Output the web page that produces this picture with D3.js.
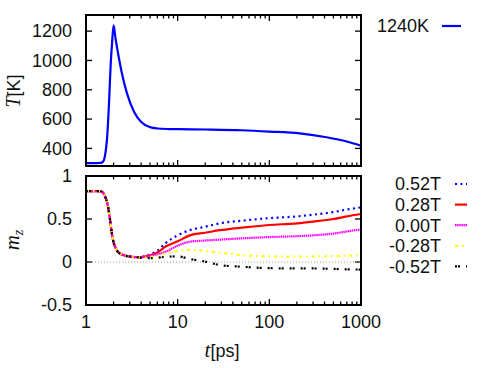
<!DOCTYPE html>
<html>
<head>
<meta charset="utf-8">
<script src="https://cdn.jsdelivr.net/npm/d3@7"></script>
<style>
  body { margin: 0; background: #fff; }
  svg text { font-family: "Liberation Sans", Arial, sans-serif; font-size: 18px; fill: #111; }
</style>
</head>
<body>
<svg id="svg" width="491" height="368"></svg>
<script>
// temperature panel
const tempTime = [1, 1.3, 1.45, 1.52, 1.6, 1.71, 1.78, 1.86, 1.93, 2.0, 2.1, 2.2, 2.45, 2.8, 3.34, 4, 5, 6, 8, 10, 20, 50, 100, 215, 420, 700, 1000];
const tempK    = [300, 300, 301, 306, 340, 497, 700, 975, 1130, 1240, 1150, 1075, 920, 775, 650, 580, 545, 536, 532, 531, 529, 524, 515, 502, 476, 447, 418];
const tempLabel = "1240K";
const tempTicks = [400, 600, 800, 1000, 1200];

// magnetisation panel
const mTime = [1, 1.4, 1.5, 1.6, 1.71, 1.83, 1.94, 2.11, 2.39, 3.07, 3.63, 4.5, 5.08, 6, 7.4, 10, 13.6, 20, 28.8, 50, 100, 200, 300, 500, 700, 1000];
const mBlue    = [0.825, 0.823, 0.815, 0.77, 0.68, 0.49, 0.29, 0.16, 0.093, 0.062, 0.055, 0.07, 0.09, 0.13, 0.22, 0.31, 0.37, 0.41, 0.45, 0.48, 0.51, 0.53, 0.55, 0.58, 0.61, 0.635];
const mRed     = [0.825, 0.823, 0.815, 0.77, 0.68, 0.49, 0.29, 0.16, 0.093, 0.062, 0.055, 0.065, 0.08, 0.11, 0.18, 0.24, 0.31, 0.34, 0.37, 0.40, 0.43, 0.45, 0.47, 0.50, 0.53, 0.558];
const mMagenta = [0.825, 0.823, 0.815, 0.77, 0.68, 0.49, 0.29, 0.16, 0.093, 0.062, 0.055, 0.06, 0.075, 0.09, 0.12, 0.19, 0.236, 0.25, 0.26, 0.275, 0.29, 0.30, 0.31, 0.33, 0.355, 0.38];
const mYellow  = [0.825, 0.823, 0.815, 0.77, 0.68, 0.49, 0.29, 0.16, 0.093, 0.062, 0.055, 0.05, 0.06, 0.07, 0.10, 0.13, 0.14, 0.13, 0.11, 0.08, 0.065, 0.062, 0.065, 0.068, 0.072, 0.08];
const mBlack   = [0.825, 0.823, 0.815, 0.77, 0.68, 0.49, 0.29, 0.16, 0.093, 0.062, 0.055, 0.045, 0.045, 0.05, 0.06, 0.065, 0.035, 0.005, -0.035, -0.055, -0.072, -0.074, -0.075, -0.08, -0.085, -0.088];
const fieldLabels = ["0.52T", "0.28T", "0.00T", "-0.28T", "-0.52T"];
const mTicks = [-0.5, 0, 0.5, 1];
const timeTicks = [1, 10, 100, 1000];

const series = [
  {label: fieldLabels[0], values: mBlue,    color: "#0000ff", dash: "2,3.5"},
  {label: fieldLabels[1], values: mRed,     color: "#ff0000", dash: null},
  {label: fieldLabels[2], values: mMagenta, color: "#ff00ff", dash: "1.5,0.6"},
  {label: fieldLabels[3], values: mYellow,  color: "#ffff00", dash: "3,4,1.5,4"},
  {label: fieldLabels[4], values: mBlack,   color: "#000000", dash: "2,1,2,6"}
];

const MATH = "font-family:'Liberation Serif','DejaVu Serif',serif;font-style:italic;";

const svg = d3.select("svg#svg");
const left = 86, right = 361;
const x = d3.scaleLog().domain([1, 1000]).range([left, right]);
const yT = d3.scaleLinear().domain([280, 1310]).range([166, 15]);
const yM = d3.scaleLinear().domain([-0.5, 1]).range([305, 176]);

// minor tick positions for the log axis
const minor = [];
for (let d = 1; d < 1000; d *= 10) for (let k = 2; k <= 9; k++) minor.push(d * k);

function frame(y) {
  const [y0, y1] = y.range();
  const g = svg.append("g");
  timeTicks.forEach(v => {
    g.append("line").attr("x1", x(v)).attr("x2", x(v)).attr("y1", y0).attr("y2", y0 - 6);
    g.append("line").attr("x1", x(v)).attr("x2", x(v)).attr("y1", y1).attr("y2", y1 + 6);
  });
  minor.forEach(v => {
    g.append("line").attr("x1", x(v)).attr("x2", x(v)).attr("y1", y0).attr("y2", y0 - 3.5);
    g.append("line").attr("x1", x(v)).attr("x2", x(v)).attr("y1", y1).attr("y2", y1 + 3.5);
  });
  g.selectAll("line").attr("stroke", "#000").attr("stroke-width", 1.3);
  return g;
}

function yTicks(y, ticks, fmt) {
  const g = svg.append("g");
  ticks.forEach(v => {
    g.append("line").attr("x1", left).attr("x2", left + 6).attr("y1", y(v)).attr("y2", y(v))
      .attr("stroke", "#000").attr("stroke-width", 1.3);
    g.append("line").attr("x1", right).attr("x2", right - 6).attr("y1", y(v)).attr("y2", y(v))
      .attr("stroke", "#000").attr("stroke-width", 1.3);
    g.append("text").attr("x", left - 14).attr("y", y(v)).attr("dy", "0.35em")
      .attr("text-anchor", "end").text(fmt(v));
  });
}

// ---- top panel: temperature
frame(yT);
yTicks(yT, tempTicks, d => d);

const lineT = d3.line().x(d => x(d[0])).y(d => yT(d[1])).curve(d3.curveMonotoneX);
svg.append("path").datum(d3.zip(tempTime, tempK))
  .attr("d", lineT).attr("fill", "none").attr("stroke", "#0000ff").attr("stroke-width", 2.2);

svg.append("rect").attr("x", left).attr("y", 15).attr("width", right - left).attr("height", 151)
  .attr("fill", "none").attr("stroke", "#000").attr("stroke-width", 2);

svg.append("text").attr("x", 429).attr("y", 26).attr("dy", "0.35em").attr("text-anchor", "end").text(tempLabel);
svg.append("line").attr("x1", 442).attr("x2", 461).attr("y1", 26).attr("y2", 26)
  .attr("stroke", "#0000ff").attr("stroke-width", 2.2);

const tl = svg.append("text").attr("transform", "translate(20,91) rotate(-90)").attr("text-anchor", "middle");
tl.append("tspan").attr("style", MATH + "font-size:20px").text("T");
tl.append("tspan").text("[K]");

// ---- bottom panel: magnetisation
frame(yM);
yTicks(yM, mTicks, d => d);

svg.append("line").attr("x1", left).attr("x2", right).attr("y1", yM(0)).attr("y2", yM(0))
  .attr("stroke", "#a0a0a0").attr("stroke-width", 1).attr("stroke-dasharray", "1,2");

const lineM = d3.line().x(d => x(d[0])).y(d => yM(d[1])).curve(d3.curveMonotoneX);
series.forEach(s => {
  svg.append("path").datum(d3.zip(mTime, s.values))
    .attr("d", lineM).attr("fill", "none").attr("stroke", s.color)
    .attr("stroke-width", 2.2).attr("stroke-dasharray", s.dash);
});

svg.append("rect").attr("x", left).attr("y", 176).attr("width", right - left).attr("height", 129)
  .attr("fill", "none").attr("stroke", "#000").attr("stroke-width", 2);

timeTicks.forEach(v => {
  svg.append("text").attr("x", x(v)).attr("y", 328).attr("text-anchor", "middle").text(v);
});

series.forEach((s, i) => {
  const yy = 184 + i * 20.6;
  svg.append("text").attr("x", 441).attr("y", yy).attr("dy", "0.35em").attr("text-anchor", "end").text(s.label);
  svg.append("line").attr("x1", 455).attr("x2", 467).attr("y1", yy).attr("y2", yy)
    .attr("stroke", s.color).attr("stroke-width", 2.2).attr("stroke-dasharray", s.dash);
});

const ml = svg.append("text").attr("transform", "translate(19,240) rotate(-90)").attr("text-anchor", "middle");
ml.append("tspan").attr("style", MATH + "font-size:21px").text("m");
ml.append("tspan").attr("style", MATH + "font-size:14px").attr("dy", "4").text("z");

const xl = svg.append("text").attr("x", 222).attr("y", 357).attr("text-anchor", "middle");
xl.append("tspan").attr("style", MATH + "font-size:21px").text("t");
xl.append("tspan").text("[ps]");
</script>
</body>
</html>
